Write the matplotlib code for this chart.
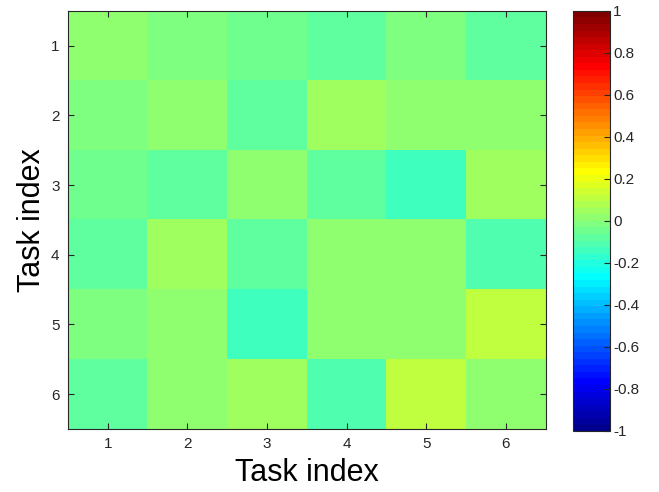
import matplotlib
matplotlib.use("Agg")
import matplotlib.pyplot as plt
from matplotlib.colors import ListedColormap
import numpy as np

plt.rcParams['font.family'] = ['Liberation Sans', 'DejaVu Sans']

# task indices and correlation-like values
tasks = [1, 2, 3, 4, 5, 6]
row1 = [0.015, -0.015, -0.05, -0.08, -0.015, -0.08]
row2 = [-0.015, 0.015, -0.08, 0.045, 0.015, 0.015]
row3 = [-0.05, -0.08, 0.015, -0.08, -0.14, 0.045]
row4 = [-0.08, 0.045, -0.08, 0.015, 0.015, -0.11]
row5 = [-0.015, 0.015, -0.14, 0.015, 0.015, 0.11]
row6 = [-0.08, 0.015, 0.045, -0.11, 0.11, 0.015]
cbar_ticks = [-1, -0.8, -0.6, -0.4, -0.2, 0, 0.2, 0.4, 0.6, 0.8, 1]

M = np.array([row1, row2, row3, row4, row5, row6])


def matlab_jet(n=64):
    # same construction as MATLAB's jet(n)
    m = int(np.ceil(n / 4))
    u = np.concatenate([np.arange(1, m + 1) / m, np.ones(m - 1), np.arange(m, 0, -1) / m])
    g = int(np.ceil(m / 2)) - (1 if n % 4 == 1 else 0) + np.arange(1, len(u) + 1)
    r = g + m
    b = g - m
    J = np.zeros((n, 3))
    for ch, idx in ((0, r), (1, g), (2, b)):
        ok = (idx >= 1) & (idx <= n)
        J[idx[ok] - 1, ch] = u[ok]
    return ListedColormap(J)


fig = plt.figure(figsize=(6.59, 4.92), dpi=100)
ax = fig.add_axes([0.103, 0.128, 0.725, 0.85])
cax = fig.add_axes([0.870, 0.124, 0.056, 0.854])

im = ax.imshow(M, cmap=matlab_jet(64), vmin=-1, vmax=1,
               aspect='auto', interpolation='nearest',
               extent=[0.5, 6.5, 6.5, 0.5])
ax.set_xticks(tasks)
ax.set_yticks(tasks)
ax.tick_params(direction='in', top=True, right=True, length=4,
               labelsize=11, colors='#262626', pad=6)
ax.set_xlabel('Task index', fontsize=22, labelpad=5)
ax.set_ylabel('Task index', fontsize=22, labelpad=3)
for s in ax.spines.values():
    s.set_color('#262626')
    s.set_linewidth(0.8)

cb = fig.colorbar(im, cax=cax, ticks=cbar_ticks)
cb.ax.set_yticklabels(['%g' % t for t in cbar_ticks])
cb.ax.tick_params(direction='in', length=4, labelsize=11, colors='#262626', pad=2)
cb.outline.set_edgecolor('#262626')
cb.outline.set_linewidth(0.8)

fig.savefig('out.png', dpi=100)
